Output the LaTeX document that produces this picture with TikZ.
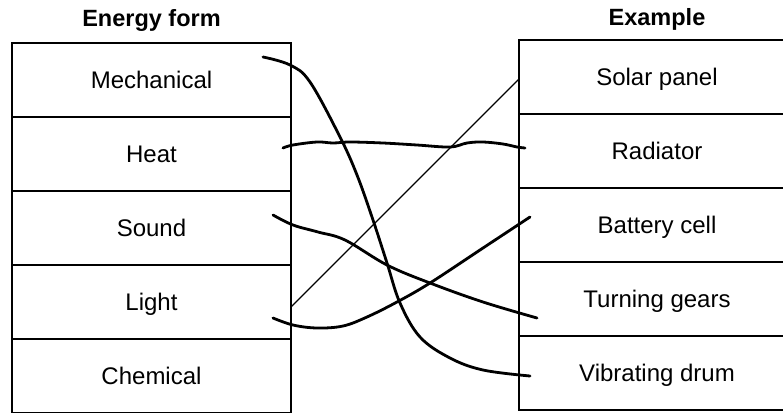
\documentclass[tikz,border=0pt]{standalone}
\usepackage{fontspec}
\setmainfont{Liberation Sans}
\tikzset{
  row/.style={draw, line width=1.6pt, minimum width=279pt, minimum height=74pt,
    inner sep=0pt, outer sep=0pt, font=\fontsize{24}{28}\selectfont,
    text height=17.2pt, text depth=0pt},
  rrow/.style={row, minimum width=276pt},
  head/.style={font=\fontsize{23.5}{28}\selectfont\bfseries, anchor=base, inner sep=0pt},
  pen/.style={line width=2.8pt, line cap=round, line join=round},
  ruler/.style={line width=1.2pt, line cap=round},
}
\begin{document}
\begin{tikzpicture}[x=1pt,y=-1pt]
\clip (0,0) rectangle (783,412);
\fill[white] (0,0) rectangle (783,412);
% headers
\node[head] (h1) at (151.5,27) {Energy form};
\node[head] (h2) at (657,26) {Example};
% left column
\node[row] (mech)  at (151.5,80)  {Mechanical};
\node[row] (heat)  at (151.5,154) {Heat};
\node[row] (sound) at (151.5,228) {Sound};
\node[row] (light) at (151.5,302) {Light};
\node[row] (chem)  at (151.5,376) {Chemical};
% right column
\node[rrow] (solar) at (657,77)  {Solar panel};
\node[rrow] (rad)   at (657,151) {Radiator};
\node[rrow] (batt)  at (657,225) {Battery cell};
\node[rrow] (gears) at (657,299) {Turning gears};
\node[rrow] (drum)  at (657,373) {Vibrating drum};
% end points of the hand-drawn lines
\coordinate (mA) at (263,57);   \coordinate (mB) at (530,376);
\coordinate (hA) at (283,148);  \coordinate (hB) at (525,148);
\coordinate (sA) at (273,215);  \coordinate (sB) at (537,318);
\coordinate (lA) at (273,318);  \coordinate (lB) at (530,217);
% Mechanical -> Vibrating drum
\draw[pen] plot[smooth, tension=0.6] coordinates {(mA) (290,65) (310,82) (340,137) (357,175) (373,220) (387,263) (400,303) (420,337) (450,358) (483,370) (mB)};
% Heat -> Radiator
\draw[pen] plot[smooth, tension=0.6] coordinates {(hA) (293,145) (317,142) (333,143) (350,142) (383,143) (417,145) (450,147) (467,143) (483,142) (503,144) (517,147) (hB)};
% Light -> Solar panel (ruled)
\draw[ruler] ([yshift=-5pt]light.east) -- ([yshift=-2pt]solar.west);
% Sound -> Turning gears
\draw[pen] plot[smooth, tension=0.6] coordinates {(sA) (293,225) (318,232) (345,240) (387,265) (430,283) (483,302) (sB)};
% Light -> Battery cell
\draw[pen] plot[smooth, tension=0.6] coordinates {(lA) (293,325) (317,328) (343,326) (367,317) (397,302) (430,283) (483,248) (lB)};
\end{tikzpicture}
\end{document}
